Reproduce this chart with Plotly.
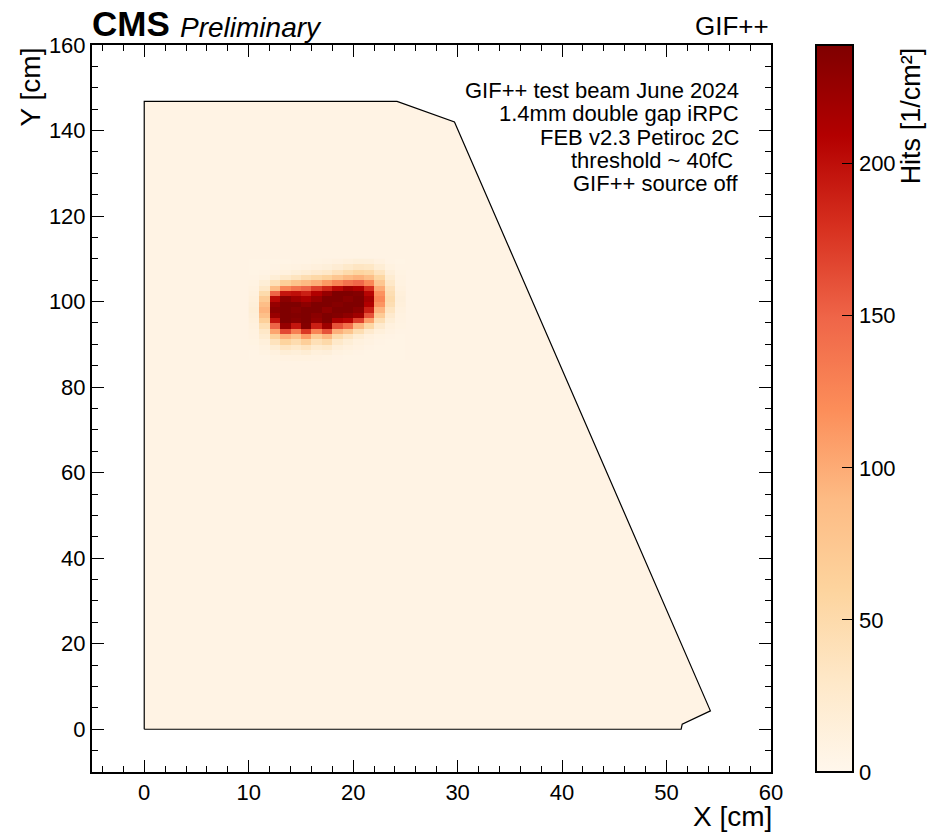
import logging

import plotly.graph_objects as go
from plotly.colors import sample_colorscale

logger = logging.getLogger(__name__)

FONT = "Liberation Sans, Arial, Helvetica, sans-serif"
COLORSCALE = "OrRd"
Z_MAX = 239

# detector outline (cm)
outline_x = [0, 0, 24.2, 29.7, 54.2, 51.5, 51.4, 0]
outline_y = [0, 146.8, 146.8, 142.0, 4.3, 1.2, 0, 0]

# mean hit density away from the beam spot
background_hits = 7

# beam spot region, bin centres (cm)
x_centers = [10.5, 11.5, 12.5, 13.5, 14.5, 15.5, 16.5, 17.5, 18.5, 19.5, 20.5, 21.5, 22.5, 23.5, 24.5]
y_centers = [86.875, 88.125, 89.375, 90.625, 91.875, 93.125, 94.375, 95.625, 96.875, 98.125,
             99.375, 100.625, 101.875, 103.125, 104.375, 105.625, 106.875, 108.125, 109.375]

# hits per cm^2, one row per y bin (bottom to top)
hits = [
    [6, 6, 8, 9, 10, 10, 9, 8, 7, 6, 6, 6, 6, 6, 6],
    [6, 8, 12, 18, 16, 20, 14, 15, 10, 8, 7, 6, 6, 6, 6],
    [7, 10, 20, 34, 28, 36, 24, 28, 16, 12, 9, 7, 6, 6, 6],
    [8, 14, 38, 60, 48, 66, 42, 52, 28, 18, 12, 9, 7, 6, 6],
    [9, 22, 62, 96, 80, 110, 70, 92, 50, 34, 20, 12, 8, 7, 6],
    [10, 30, 104, 165, 130, 176, 126, 160, 96, 78, 45, 25, 14, 9, 7],
    [12, 44, 150, 226, 196, 236, 190, 222, 160, 140, 92, 55, 25, 12, 8],
    [14, 64, 196, 239, 234, 239, 228, 239, 214, 206, 170, 108, 45, 18, 9],
    [16, 84, 224, 239, 237, 239, 232, 239, 236, 230, 220, 160, 70, 25, 10],
    [18, 94, 232, 239, 234, 239, 239, 230, 239, 239, 232, 190, 94, 35, 12],
    [16, 86, 226, 239, 239, 231, 239, 239, 235, 239, 239, 210, 114, 45, 14],
    [14, 70, 204, 232, 222, 214, 226, 239, 239, 233, 239, 218, 124, 50, 15],
    [12, 50, 150, 196, 200, 190, 210, 226, 239, 239, 236, 206, 116, 45, 14],
    [10, 30, 88, 126, 140, 150, 170, 186, 204, 220, 212, 180, 100, 40, 12],
    [8, 18, 42, 66, 80, 90, 98, 112, 126, 140, 148, 124, 76, 30, 10],
    [7, 10, 18, 28, 36, 46, 54, 62, 76, 90, 96, 86, 56, 22, 9],
    [6, 7, 9, 12, 16, 20, 25, 30, 40, 50, 58, 54, 36, 15, 8],
    [6, 6, 7, 8, 9, 11, 13, 16, 21, 28, 34, 32, 20, 10, 7],
    [6, 6, 6, 6, 7, 7, 8, 9, 11, 13, 16, 15, 11, 7, 6],
]

info_lines = [
    "GIF++ test beam June 2024",
    "1.4mm double gap iRPC",
    "FEB v2.3 Petiroc 2C",
    "threshold ~ 40fC\u00a0",
    "GIF++ source off",
]
cbar_major = [0, 50, 100, 150, 200]
cbar_minor = [10, 20, 30, 40, 60, 70, 80, 90, 110, 120, 130, 140, 160, 170, 180, 190, 210, 220, 230]

PLOT_W = 679  # plot area size in px, used for placing things outside the axes
PLOT_H = 727


def build_figure() -> go.Figure:
    fig = go.Figure()

    # detector acceptance, filled with the background hit level
    bg_color = sample_colorscale(COLORSCALE, [background_hits / Z_MAX])[0]
    path = "M " + " L ".join(f"{x},{y}" for x, y in zip(outline_x, outline_y)) + " Z"
    fig.add_shape(type="path", path=path, xref="x", yref="y", layer="below",
                  fillcolor=bg_color, line=dict(width=0))

    fig.add_trace(go.Heatmap(
        x=x_centers, y=y_centers, z=hits,
        colorscale=COLORSCALE, zmin=0, zmax=Z_MAX,
        colorbar=dict(
            x=1.066, xanchor="left", xpad=0,
            y=0.5, yanchor="middle", len=1, ypad=0,
            thickness=37, outlinewidth=2, outlinecolor="black",
            tickvals=cbar_major, ticks="inside", ticklen=12, tickwidth=1,
            tickcolor="black", tickfont=dict(family=FONT, size=22, color="black"),
        ),
    ))

    fig.add_trace(go.Scatter(
        x=outline_x, y=outline_y, mode="lines",
        line=dict(color="black", width=1.2), hoverinfo="skip", showlegend=False,
    ))

    axis_common = dict(
        showgrid=False, zeroline=False, showline=True, linecolor="black", linewidth=2,
        mirror="ticks", ticks="inside", ticklen=12, tickwidth=1, tickcolor="black",
        tickfont=dict(family=FONT, size=22, color="black"),
    )
    fig.update_xaxes(range=[-5, 60], dtick=10, tick0=0,
                     minor=dict(dtick=2, ticks="inside", ticklen=6, tickcolor="black"),
                     **axis_common)
    fig.update_yaxes(range=[-10, 160], dtick=20, tick0=0,
                     minor=dict(dtick=5, ticks="inside", ticklen=6, tickcolor="black"),
                     **axis_common)

    # colorbar minor ticks
    bar_right = 1.066 + 37 / PLOT_W
    for v in cbar_minor:
        fig.add_shape(type="line", xref="paper", yref="paper",
                      x0=bar_right - 6 / PLOT_W, x1=bar_right, y0=v / Z_MAX, y1=v / Z_MAX,
                      line=dict(color="black", width=1))

    anns = [
        dict(x=0, y=1, xanchor="left", yanchor="bottom", xshift=-2,
             text="<b>CMS</b>", font=dict(size=35, family=FONT)),
        dict(x=0.127, y=1, xanchor="left", yanchor="bottom",
             text="<i>Preliminary</i>", font=dict(size=28, family=FONT)),
        dict(x=1, y=1, xanchor="right", yanchor="bottom", yshift=2,
             text="GIF++", font=dict(size=26, family=FONT)),
        dict(x=1, y=0, xanchor="right", yanchor="top", yshift=-27, xshift=3,
             text="X [cm]", font=dict(size=28, family=FONT)),
        dict(x=-0.09, y=1, xanchor="center", yanchor="top", textangle=-90,
             text="Y [cm]", font=dict(size=28, family=FONT)),
        dict(x=1.206, y=1, xanchor="center", yanchor="top", textangle=-90,
             text="Hits [1/cm\u00b2]", font=dict(size=27, family=FONT)),
    ]
    for i, line in enumerate(info_lines):
        anns.append(dict(x=0.956, y=1 - (45.5 + 23.3 * i) / PLOT_H, xanchor="right", yanchor="middle",
                         text=line, font=dict(size=22, family=FONT)))
    for a in anns:
        a.update(xref="paper", yref="paper", showarrow=False)
        a["font"]["color"] = "black"

    fig.update_layout(
        width=928, height=833,
        margin=dict(l=92, r=157, t=45, b=61),
        paper_bgcolor="white", plot_bgcolor="white",
        font=dict(family=FONT, color="black"),
        annotations=anns, showlegend=False,
    )
    return fig


if __name__ == "__main__":
    logging.basicConfig(level=logging.INFO)
    fig = build_figure()
    # page body has an 8px default margin; drop it so the figure sits at the window origin
    fig.write_html("out.html", config={"displayModeBar": False},
                   post_script="document.body.style.margin = '0px';")
    logger.info("wrote out.html")
